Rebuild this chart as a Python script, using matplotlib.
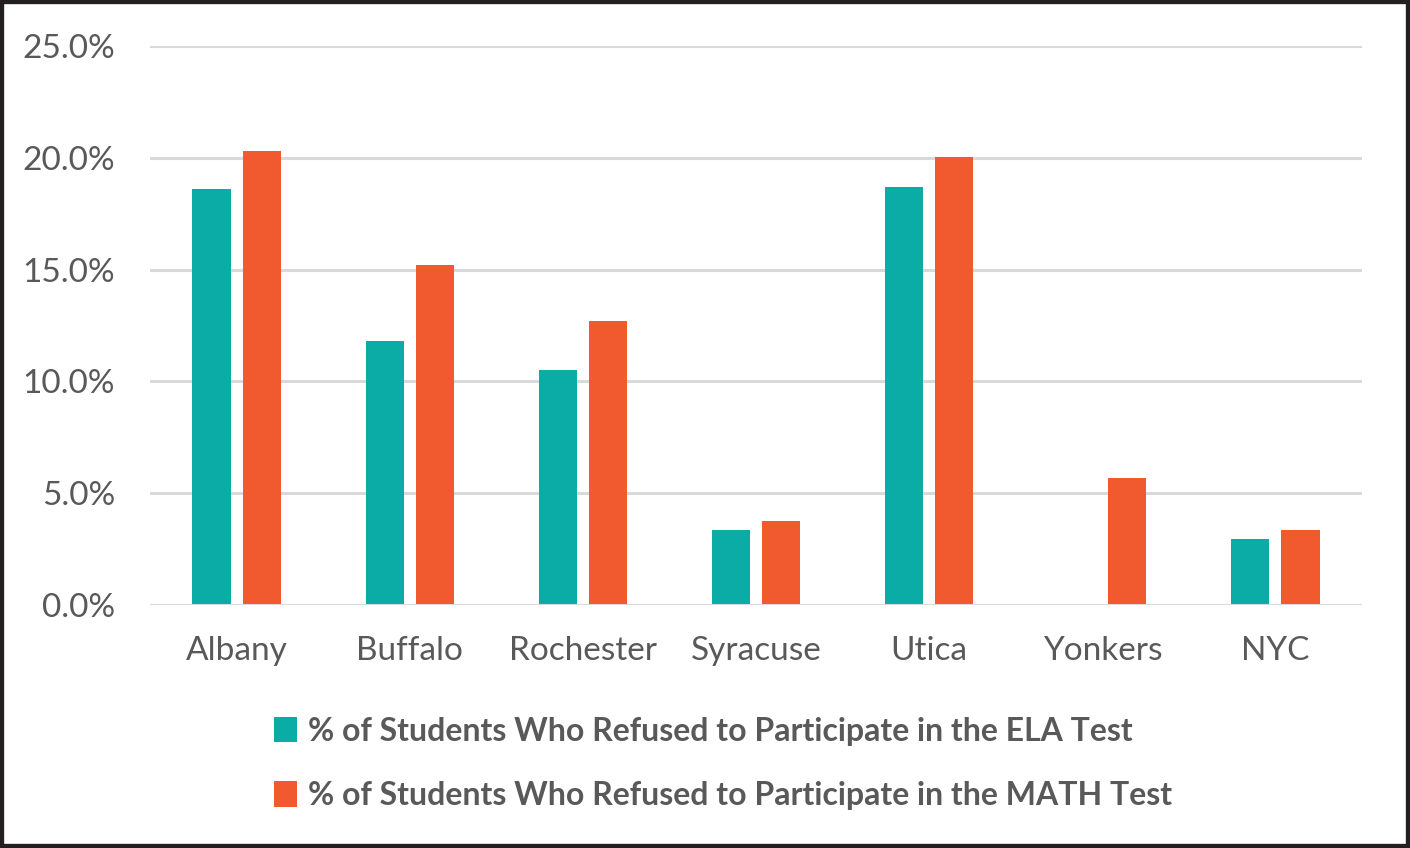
import matplotlib
matplotlib.use("Agg")
import matplotlib.pyplot as plt
import numpy as np
from matplotlib.patches import Patch, Rectangle
from matplotlib.ticker import FuncFormatter

categories = ["Albany", "Buffalo", "Rochester", "Syracuse", "Utica", "Yonkers", "NYC"]
ela = [18.6, 11.8, 10.5, 3.35, 18.7, 0.0, 2.95]
math_ = [20.3, 15.2, 12.7, 3.75, 20.05, 5.7, 3.35]
labels = ["% of Students Who Refused to Participate in the ELA Test",
          "% of Students Who Refused to Participate in the MATH Test"]
yticks = [0, 5, 10, 15, 20, 25]

teal = "#0BABA6"
orange = "#F15A2E"
txt = "#595959"

plt.rcParams['font.family'] = ['Lato', 'DejaVu Sans']

fig = plt.figure(figsize=(14.1, 8.48), dpi=100)
ax = fig.add_axes([150/1410, 1-605/848, 1212/1410, (605-46)/848])

x = np.arange(len(categories))
w = 0.22
off = 0.145
ax.bar(x - off, ela, w, color=teal, zorder=2)
ax.bar(x + off, math_, w, color=orange, zorder=2)

ax.set_xlim(-0.5, len(categories) - 0.5)
ax.set_ylim(0, 25)
ax.set_yticks(yticks)
ax.yaxis.set_major_formatter(FuncFormatter(lambda v, p: f"{v:.1f}%"))
for t in yticks:
    ax.axhline(t, color="#D9D9D9", lw=2.2, zorder=3 if t == 0 else 1)
ax.set_xticks(x)
ax.set_xticklabels(categories)
ax.tick_params(axis='both', length=0, labelsize=24, colors=txt, labelcolor=txt)
ax.tick_params(axis='y', pad=25)
ax.tick_params(axis='x', pad=22)
for s in ax.spines.values():
    s.set_visible(False)

handles = [Patch(facecolor=teal), Patch(facecolor=orange)]
leg = fig.legend(handles, labels, loc="upper center", bbox_to_anchor=(0.513, 1-688/848),
                 frameon=False, ncol=1, handlelength=0.7, handleheight=0.85,
                 handletextpad=0.35, labelspacing=1.1,
                 prop={'family': ['Lato', 'DejaVu Sans'], 'weight': 'bold', 'size': 23})
for t in leg.get_texts():
    t.set_color(txt)

fig.patches.append(Rectangle((0, 0), 1, 1, transform=fig.transFigure, fill=False,
                             edgecolor="#231F20", lw=6, zorder=10))

fig.savefig("out.png", dpi=100)
